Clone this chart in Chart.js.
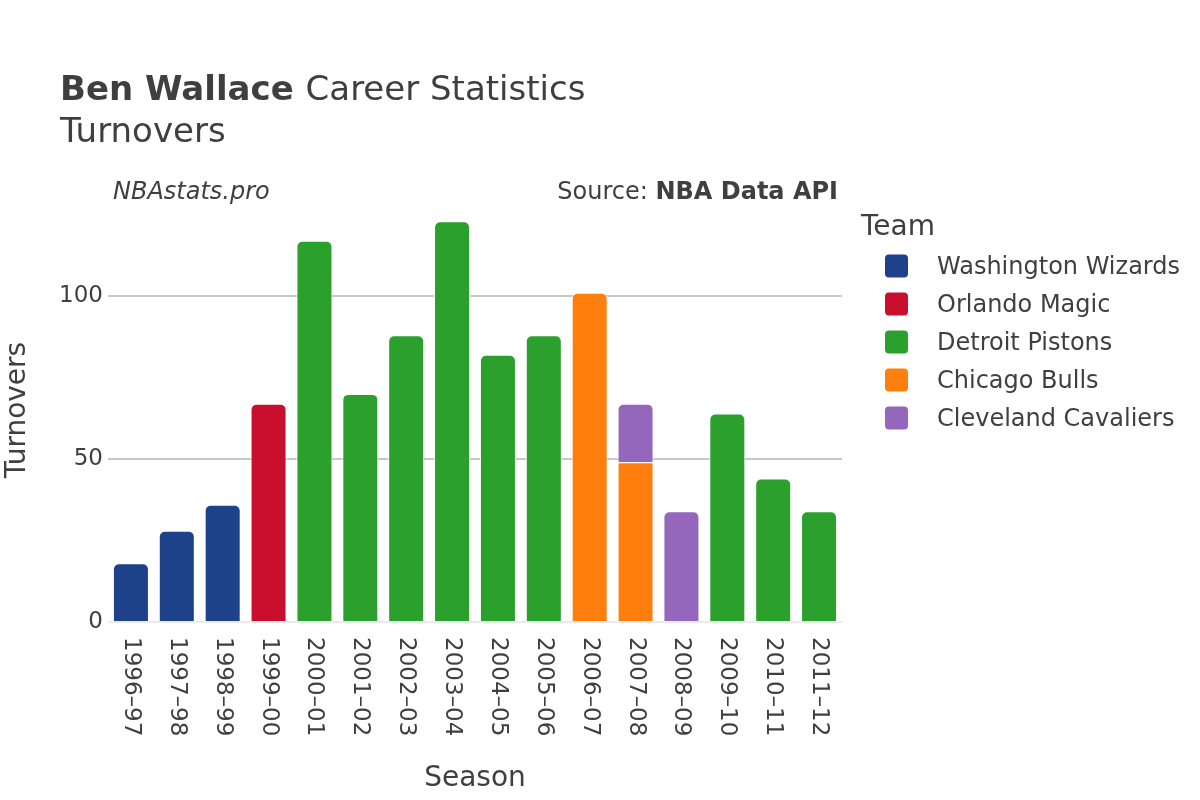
<!DOCTYPE html>
<html>
<head>
<meta charset="utf-8">
<script src="https://cdn.jsdelivr.net/npm/chart.js@4"></script>
<style>
  html, body { margin: 0; padding: 0; background: #fff; }
  canvas { display: block; }
</style>
</head>
<body>
<canvas id="chart" width="1200" height="800"></canvas>
<script>
// Seasons on the x axis
const seasons = ['1996–97', '1997–98', '1998–99', '1999–00', '2000–01', '2001–02', '2002–03', '2003–04',
  '2004–05', '2005–06', '2006–07', '2007–08', '2008–09', '2009–10', '2010–11', '2011–12'];

// Turnovers per team (null where he did not play for that team)
const wizards   = [18, 28, 36, null, null, null, null, null, null, null, null, null, null, null, null, null];
const magic     = [null, null, null, 67, null, null, null, null, null, null, null, null, null, null, null, null];
const pistons   = [null, null, null, null, 117, 70, 88, 123, 82, 88, null, null, null, 64, 44, 34];
const bulls     = [null, null, null, null, null, null, null, null, null, null, 101, 49, null, null, null, null];
const cavaliers = [null, null, null, null, null, null, null, null, null, null, null, 18, 34, null, null, null];

const teams = ['Washington Wizards', 'Orlando Magic', 'Detroit Pistons', 'Chicago Bulls', 'Cleveland Cavaliers'];
const teamColors = ['#1d428a', '#c8102e', '#2ca02c', '#ff7f0e', '#9467bd'];
const yTicks = [0, 50, 100];

const series = [wizards, magic, pistons, bulls, cavaliers];
const textColor = '#3f3f3f';
const fontFamily = "'DejaVu Sans', sans-serif";

Chart.defaults.font.family = fontFamily;
Chart.defaults.color = textColor;

// only round the top of the highest segment in a stack
function radiusFor(ctx) {
  const i = ctx.dataIndex;
  for (let d = ctx.datasetIndex + 1; d < series.length; d++) {
    if (series[d][i] != null) return 0;
  }
  return 6;
}

// titles, source note, rotated season labels, axis titles and legend
const decorations = {
  id: 'decorations',
  afterDraw(chart) {
    const c = chart.ctx;
    const x = chart.scales.x;
    c.save();
    c.fillStyle = textColor;
    c.textBaseline = 'middle';

    // title
    c.textAlign = 'left';
    c.font = `bold 34px ${fontFamily}`;
    c.fillText('Ben Wallace', 60, 91);
    const w = c.measureText('Ben Wallace ').width;
    c.font = `34px ${fontFamily}`;
    c.fillText('Career Statistics', 60 + w, 91);
    c.fillText('Turnovers', 60, 133);

    // source line
    c.font = `italic 24px ${fontFamily}`;
    c.fillText('NBAstats.pro', 113, 193);
    c.textAlign = 'right';
    c.font = `bold 24px ${fontFamily}`;
    c.fillText('NBA Data API', 838, 193);
    const bw = c.measureText('NBA Data API').width;
    c.font = `24px ${fontFamily}`;
    c.fillText('Source: ', 838 - bw, 193);

    // season labels, rotated clockwise
    c.font = `23px ${fontFamily}`;
    c.textAlign = 'left';
    seasons.forEach((s, i) => {
      c.save();
      c.translate(x.getPixelForValue(i), 637);
      c.rotate(Math.PI / 2);
      c.fillText(s, 0, 0);
      c.restore();
    });

    // axis titles
    c.font = `28px ${fontFamily}`;
    c.textAlign = 'center';
    c.fillText('Season', (chart.chartArea.left + chart.chartArea.right) / 2, 779);
    c.save();
    c.translate(18, 410);
    c.rotate(-Math.PI / 2);
    c.fillText('Turnovers', 0, 0);
    c.restore();

    // legend
    c.textAlign = 'left';
    c.font = `28px ${fontFamily}`;
    c.fillText('Team', 861, 228);
    c.font = `24px ${fontFamily}`;
    teams.forEach((t, i) => {
      const cy = 266 + i * 38;
      c.fillStyle = teamColors[i];
      c.beginPath();
      c.roundRect(885, cy - 11.5, 23, 23, 4);
      c.fill();
      c.fillStyle = textColor;
      c.fillText(t, 937, cy + 1.5);
    });
    c.restore();
  }
};

new Chart(document.getElementById('chart'), {
  type: 'bar',
  data: {
    labels: seasons,
    datasets: teams.map((t, i) => ({
      label: t,
      data: series[i],
      backgroundColor: teamColors[i],
      borderColor: '#ffffff',
      borderWidth: 1,
      borderSkipped: 'start',
      borderRadius: radiusFor
    }))
  },
  options: {
    responsive: false,
    animation: false,
    layout: { padding: { top: 200, right: 358, left: 0, bottom: 0 } },
    datasets: {
      bar: { barPercentage: 0.785, categoryPercentage: 1 }
    },
    plugins: {
      legend: { display: false },
      tooltip: { enabled: false }
    },
    scales: {
      x: {
        stacked: true,
        grid: { display: false },
        border: { display: false },
        ticks: { display: false },
        afterFit: (scale) => { scale.height = 178; }
      },
      y: {
        stacked: true,
        min: 0,
        max: 129.5,
        border: { display: false },
        grid: {
          drawTicks: false,
          lineWidth: 2,
          color: (ctx) => (ctx.tick && ctx.tick.value === 0 ? '#ebebeb' : '#c8c8c8')
        },
        ticks: {
          includeBounds: false,
          stepSize: 50,
          padding: 5,
          color: textColor,
          font: { size: 23 },
          callback: (v) => (yTicks.includes(v) ? v : null)
        },
        afterFit: (scale) => { scale.width = 108; }
      }
    }
  },
  plugins: [decorations]
});
</script>
</body>
</html>
